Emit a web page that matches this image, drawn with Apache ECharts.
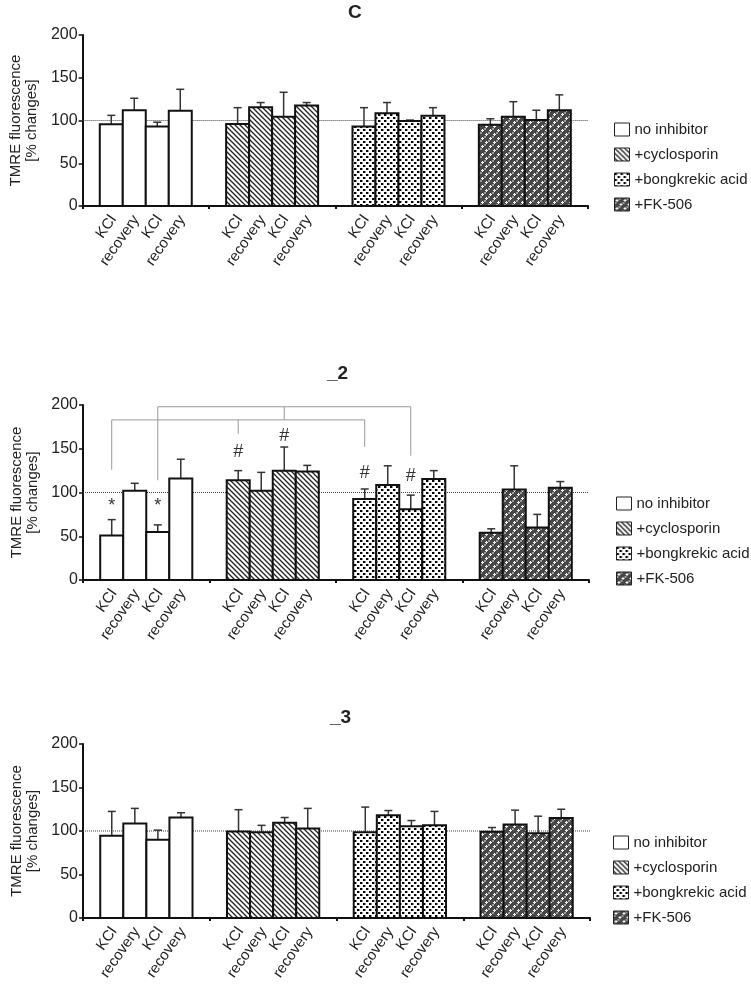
<!DOCTYPE html>
<html><head><meta charset="utf-8">
<script src="https://cdn.jsdelivr.net/npm/echarts@6/dist/echarts.min.js"></script>
<style>html,body{margin:0;padding:0;background:#fff}#c{width:751px;height:987px}</style>
</head><body><div id="c"></div>
<script>
// ---------- data ----------
const treatments = ['no inhibitor', '+cyclosporin', '+bongkrekic acid', '+FK-506'];
const barLabels = ['KCl', 'recovery', 'KCl', 'recovery'];
const yTicks = [0, 50, 100, 150, 200];
const panelTitles = ['C', '_2', '_3'];
const yAxisName = 'TMRE fluorescence\n[% changes]';
const baseline = 100;

// Panel C : mean values and error (SD) per treatment, 4 bars each
const c_noInhibitor = [95.5, 112, 93, 111.5];   const c_noInhibitorErr = [10.5, 14, 5, 25];
const c_cyclosporin = [96, 115.5, 104.5, 117.5]; const c_cyclosporinErr = [19, 5.5, 28.5, 3.5];
const c_bongkrekic  = [93, 108.5, 99.5, 105.5];  const c_bongkrekicErr  = [22, 12.5, 1, 9.5];
const c_fk506       = [95, 104.5, 100.5, 112];   const c_fk506Err       = [7, 17.5, 11.5, 18];

// Panel _2
const p2_noInhibitor = [51, 102, 55, 116];       const p2_noInhibitorErr = [18, 8.5, 8, 22];
const p2_cyclosporin = [114, 102, 125, 124];     const p2_cyclosporinErr = [11, 21, 27, 7];
const p2_bongkrekic  = [92.5, 108.5, 81, 115.5]; const p2_bongkrekicErr  = [11.5, 22, 16, 9.5];
const p2_fk506       = [54, 103.5, 60, 105.5];   const p2_fk506Err       = [4.5, 27, 15, 7];

// Panel _3
const p3_noInhibitor = [94.5, 108.5, 90, 115.5]; const p3_noInhibitorErr = [28, 17.5, 11, 5.5];
const p3_cyclosporin = [99.5, 98.5, 109.5, 103]; const p3_cyclosporinErr = [25, 8, 6, 23];
const p3_bongkrekic  = [98.5, 118, 105.5, 106.5];const p3_bongkrekicErr  = [29, 5.5, 6.5, 16];
const p3_fk506       = [99, 107.5, 97.5, 115];   const p3_fk506Err       = [5, 16.5, 19.5, 10];

// Panel _2 significance marks (bar index 0..15, value where symbol sits)
const annotBars   = [0, 2, 4, 6, 8, 10];
const annotValues = [84, 84, 146, 164, 122.5, 119];
const annotText   = ['*', '*', '#', '#', '#', '#'];
// Panel _2 comparison brackets
const bracketBars   = [[0, 4, 8], [2, 6, 10]];
const bracketLevels = [183, 198];
const bracketEnds   = [[126, 167, 152], [114, 183, 142]];

// ---------- styles ----------
const BW = 0.182;   // bar width in group units
const FONT = '"Liberation Sans", Arial, sans-serif';

function makePattern(kind) {
  const cv = document.createElement('canvas');
  const ctx = cv.getContext('2d');
  if (kind === 'white') {
    cv.width = cv.height = 4; ctx.fillStyle = '#fff'; ctx.fillRect(0, 0, 4, 4);
  } else if (kind === 'hatch') {
    const s = 5; cv.width = cv.height = s;
    ctx.fillStyle = '#fff'; ctx.fillRect(0, 0, s, s);
    ctx.strokeStyle = '#222'; ctx.lineWidth = 1.3;
    ctx.beginPath();
    ctx.moveTo(-1, -1); ctx.lineTo(s + 1, s + 1);
    ctx.moveTo(-1, s - 1); ctx.lineTo(1, s + 1);
    ctx.moveTo(s - 1, -1); ctx.lineTo(s + 1, 1);
    ctx.stroke();
  } else if (kind === 'dots') {
    const s = 6; cv.width = cv.height = s;
    ctx.fillStyle = '#fff'; ctx.fillRect(0, 0, s, s);
    ctx.fillStyle = '#000';
    ctx.fillRect(0, 0, 2, 2); ctx.fillRect(3, 3, 2, 2);
    ctx.fillStyle = '#999';
    ctx.fillRect(2, 0, 1, 2); ctx.fillRect(5, 3, 1, 2);
  } else {
    const s = 8; cv.width = cv.height = s;
    ctx.fillStyle = '#474747'; ctx.fillRect(0, 0, s, s);
    ctx.fillStyle = '#9a9a9a';
    ctx.fillRect(0, 4, 2, 2); ctx.fillRect(4, 0, 2, 2);
    ctx.fillStyle = '#f4f4f4';
    [[2,1],[1,2],[2,2],[3,2],[2,3],[6,5],[5,6],[6,6],[7,6],[6,7]].forEach(p => ctx.fillRect(p[0], p[1], 1, 1));
  }
  return { image: cv, repeat: 'repeat' };
}
const patterns = [makePattern('white'), makePattern('hatch'), makePattern('dots'), makePattern('fk')];

const panels = [
  { means: [c_noInhibitor, c_cyclosporin, c_bongkrekic, c_fk506], errs: [c_noInhibitorErr, c_cyclosporinErr, c_bongkrekicErr, c_fk506Err] },
  { means: [p2_noInhibitor, p2_cyclosporin, p2_bongkrekic, p2_fk506], errs: [p2_noInhibitorErr, p2_cyclosporinErr, p2_bongkrekicErr, p2_fk506Err] },
  { means: [p3_noInhibitor, p3_cyclosporin, p3_bongkrekic, p3_fk506], errs: [p3_noInhibitorErr, p3_cyclosporinErr, p3_bongkrekicErr, p3_fk506Err] }
];

const grids = [
  { left: 82, top: 35, width: 506, height: 171 },
  { left: 83, top: 405, width: 506, height: 175 },
  { left: 83, top: 744, width: 507, height: 174 }
];
const titlePos = [{ left: 348, top: 3 }, { left: 327, top: 364 }, { left: 330, top: 708 }];
const legendTop = [122, 496, 835];
const legendLeft = [614, 616, 613];

function barCenter(g, i) { return g + 0.5 + (i - 1.5) * BW; }

function barRender(params, api) {
  const g = api.value(0), i = api.value(1), v = api.value(2), e = api.value(3);
  const cx = barCenter(g, i);
  const p0 = api.coord([cx - BW / 2, 0]);
  const p1 = api.coord([cx + BW / 2, v]);
  const pt = api.coord([cx, v + e]);
  const pc = api.coord([cx, v]);
  return {
    type: 'group', children: [
      { type: 'line', shape: { x1: pc[0], y1: pc[1], x2: pt[0], y2: pt[1] }, style: { stroke: '#333', lineWidth: 1.5 } },
      { type: 'line', shape: { x1: pt[0] - 4, y1: pt[1], x2: pt[0] + 4, y2: pt[1] }, style: { stroke: '#333', lineWidth: 1.5 } },
      { type: 'rect', shape: { x: p0[0], y: p1[1], width: p1[0] - p0[0], height: p0[1] - p1[1] },
        style: { fill: patterns[g], stroke: '#111', lineWidth: 2 } },
      { type: 'text', x: pc[0] + 2, y: p0[1] + 11, rotation: 55 * Math.PI / 180,
        style: { text: barLabels[i], align: 'right', verticalAlign: 'middle', font: '15px ' + FONT, fill: '#222' } }
    ]
  };
}

const series = [];
panels.forEach((p, pi) => {
  treatments.forEach((t, g) => {
    series.push({
      type: 'custom', name: t, xAxisIndex: pi, yAxisIndex: pi, clip: false,
      itemStyle: { color: patterns[g], borderColor: '#111', borderWidth: 1 },
      renderItem: barRender,
      data: p.means[g].map((v, i) => [g, i, v, p.errs[g][i]]),
      z: 3
    });
  });
  series.push({
    type: 'line', name: 'baseline', xAxisIndex: pi, yAxisIndex: pi, symbol: 'none', silent: true,
    data: [[0, baseline], [4, baseline]],
    lineStyle: { type: 'dotted', color: '#444', width: 1 }, z: 2
  });
});

// brackets & marks on panel _2
series.push({
  type: 'custom', name: 'brackets', xAxisIndex: 1, yAxisIndex: 1, clip: false, silent: true, z: 4,
  data: bracketBars.map((b, k) => [k]),
  renderItem: function (params, api) {
    const k = api.value(0);
    const bars = bracketBars[k], lvl = bracketLevels[k], ends = bracketEnds[k];
    const xs = bars.map(b => barCenter(Math.floor(b / 4), b % 4));
    const children = [];
    const a = api.coord([xs[0], lvl]), z = api.coord([xs[xs.length - 1], lvl]);
    children.push({ type: 'line', shape: { x1: a[0], y1: a[1], x2: z[0], y2: z[1] }, style: { stroke: '#999', lineWidth: 1 } });
    xs.forEach((x, j) => {
      const t = api.coord([x, lvl]), b = api.coord([x, ends[j]]);
      children.push({ type: 'line', shape: { x1: t[0], y1: t[1], x2: b[0], y2: b[1] }, style: { stroke: '#999', lineWidth: 1 } });
    });
    return { type: 'group', children: children };
  }
});
series.push({
  type: 'custom', name: 'marks', xAxisIndex: 1, yAxisIndex: 1, clip: false, silent: true, z: 4,
  data: annotBars.map((b, k) => [b, annotValues[k], k]),
  renderItem: function (params, api) {
    const b = api.value(0), v = api.value(1), k = api.value(2);
    const p = api.coord([barCenter(Math.floor(b / 4), b % 4), v]);
    return { type: 'text', x: p[0], y: p[1],
      style: { text: annotText[k], align: 'center', verticalAlign: 'middle', font: '18px ' + FONT, fill: '#333' } };
  }
});

const option = {
  animation: false,
  textStyle: { fontFamily: FONT },
  title: panelTitles.map((t, i) => ({
    text: t, left: titlePos[i].left, top: titlePos[i].top, padding: 0,
    textStyle: { fontSize: 19, fontWeight: 'bold', color: '#222', fontFamily: FONT }
  })),
  legend: [0, 1, 2].map(i => ({
    orient: 'vertical', left: legendLeft[i], top: legendTop[i], data: treatments,
    icon: 'rect', itemWidth: 15, itemHeight: 13, itemGap: 10, padding: 0,
    itemStyle: { borderColor: '#222', borderWidth: 1 },
    textStyle: { fontSize: 15, color: '#222', fontFamily: FONT }, selectedMode: false
  })),
  grid: grids,
  xAxis: grids.map((g, i) => ({
    type: 'value', gridIndex: i, min: 0, max: 4, interval: 1,
    axisLine: { show: true, onZero: false, lineStyle: { color: '#111', width: 2 } },
    axisTick: { show: true, length: 3, lineStyle: { color: '#111', width: 2 } },
    axisLabel: { show: false }, splitLine: { show: false }
  })),
  yAxis: grids.map((g, i) => ({
    type: 'value', gridIndex: i, min: yTicks[0], max: yTicks[yTicks.length - 1], interval: yTicks[1] - yTicks[0],
    name: yAxisName, nameLocation: 'middle', nameRotate: 90, nameGap: 40,
    nameTextStyle: { fontSize: 15, color: '#222', lineHeight: 16, fontFamily: FONT },
    axisLine: { show: true, lineStyle: { color: '#111', width: 2 } },
    axisTick: { show: true, length: 4, lineStyle: { color: '#111', width: 1.5 } },
    axisLabel: { fontSize: 16, color: '#222', margin: 5, fontFamily: FONT },
    splitLine: { show: false }
  })),
  series: series
};
const chart = echarts.init(document.getElementById('c'), null, { renderer: 'canvas' });
chart.setOption(option);
</script>
</body></html>
